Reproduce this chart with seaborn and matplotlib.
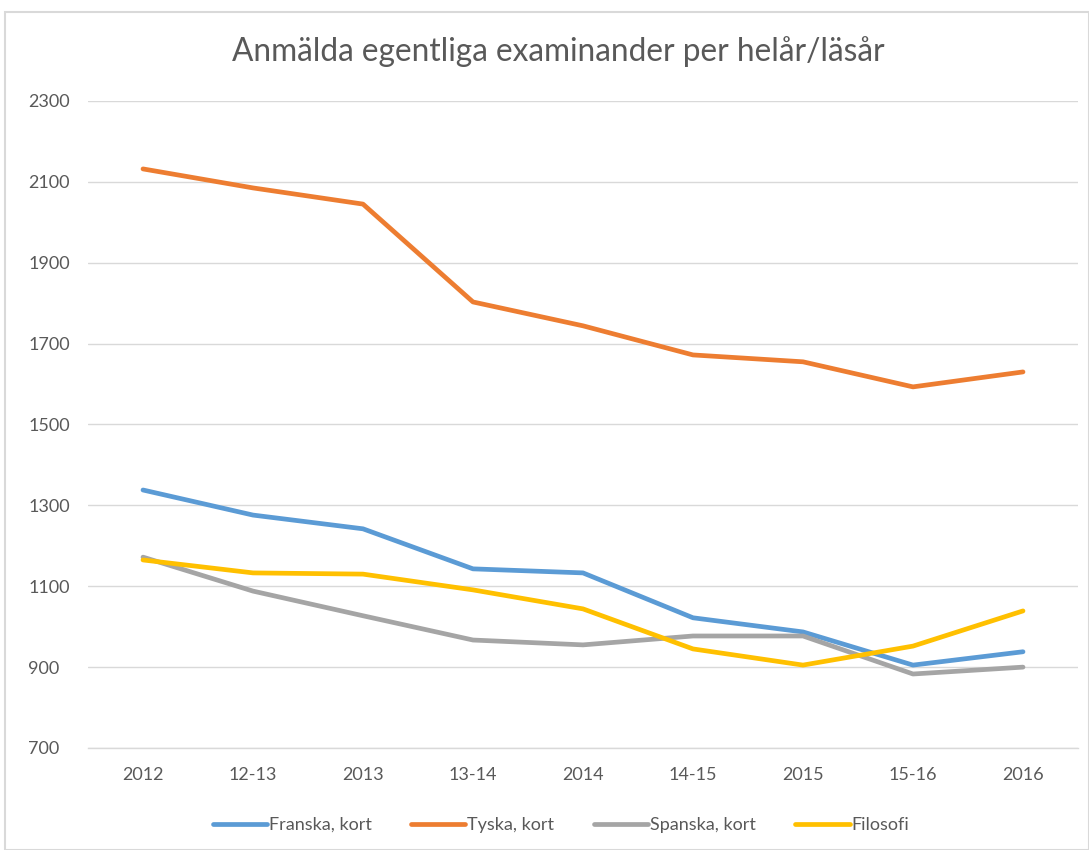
import matplotlib
matplotlib.use("Agg")
import matplotlib.pyplot as plt
import seaborn as sns
import pandas as pd
from matplotlib.patches import Rectangle

categories = ["2012", "12-13", "2013", "13-14", "2014", "14-15", "2015", "15-16", "2016"]
franska = [1338, 1276, 1242, 1143, 1133, 1022, 987, 905, 938]
tyska = [2132, 2085, 2045, 1803, 1744, 1672, 1655, 1593, 1630]
spanska = [1172, 1088, 1027, 967, 955, 977, 977, 883, 900]
filosofi = [1165, 1133, 1130, 1091, 1044, 945, 905, 952, 1039]
series_names = ["Franska, kort", "Tyska, kort", "Spanska, kort", "Filosofi"]
y_ticks = [700, 900, 1100, 1300, 1500, 1700, 1900, 2100, 2300]

sns.set_theme(style="white")
plt.rcParams['font.family'] = ['Lato', 'DejaVu Sans']

rows = []
for name, vals in zip(series_names, [franska, tyska, spanska, filosofi]):
    for i, (c, v) in enumerate(zip(categories, vals)):
        rows.append({"idx": i, "cat": c, "value": v, "series": name})
df = pd.DataFrame(rows)

palette = {"Franska, kort": "#5B9BD5", "Tyska, kort": "#ED7D31",
           "Spanska, kort": "#A5A5A5", "Filosofi": "#FFC000"}

fig = plt.figure(figsize=(10.89, 8.5), dpi=100)
ax = fig.add_axes([88/1089, 0.12, (1078-88)/1089, 0.8812-0.12])

sns.lineplot(data=df, x="idx", y="value", hue="series", palette=palette,
             hue_order=series_names, linewidth=3.4, ax=ax, legend=True,
             solid_capstyle="round")

ax.set_xlim(-0.5, len(categories) - 0.5)
ax.set_ylim(700, 2300)
ax.set_yticks(y_ticks)
ax.set_xticks(range(len(categories)))
ax.set_xticklabels(categories)
ax.yaxis.grid(True, color="#D9D9D9", linewidth=1)
ax.set_axisbelow(True)
for s in ["top", "right", "left"]:
    ax.spines[s].set_visible(False)
ax.spines["bottom"].set_color("#D9D9D9")
ax.spines["bottom"].set_linewidth(1)
ax.tick_params(axis="both", length=0, labelsize=13, colors="#595959")
ax.tick_params(axis="x", pad=14)
for lbl in ax.get_yticklabels():
    lbl.set_horizontalalignment("left")
ax.yaxis.set_tick_params(pad=43)
ax.set_xlabel("")
ax.set_ylabel("")

fig.text(0.513, 1 - 52/850, "Anmälda egentliga examinander per helår/läsår",
         ha="center", va="center", fontsize=22.8, color="#595959")

handles, labels = ax.get_legend_handles_labels()
ax.legend(handles, labels, loc="center", bbox_to_anchor=(0.515, (850-825)/850),
          bbox_transform=fig.transFigure, ncol=4, frameon=False,
          fontsize=13, handlelength=3.0, handletextpad=0.1, columnspacing=2.2,
          labelcolor="#595959")

fig.patches.append(Rectangle((5/1089, 0), 1 - 5/1089, 1 - 12/850,
                             transform=fig.transFigure, fill=False,
                             edgecolor="#D9D9D9", linewidth=1.5))

fig.savefig("out.png", dpi=100)
